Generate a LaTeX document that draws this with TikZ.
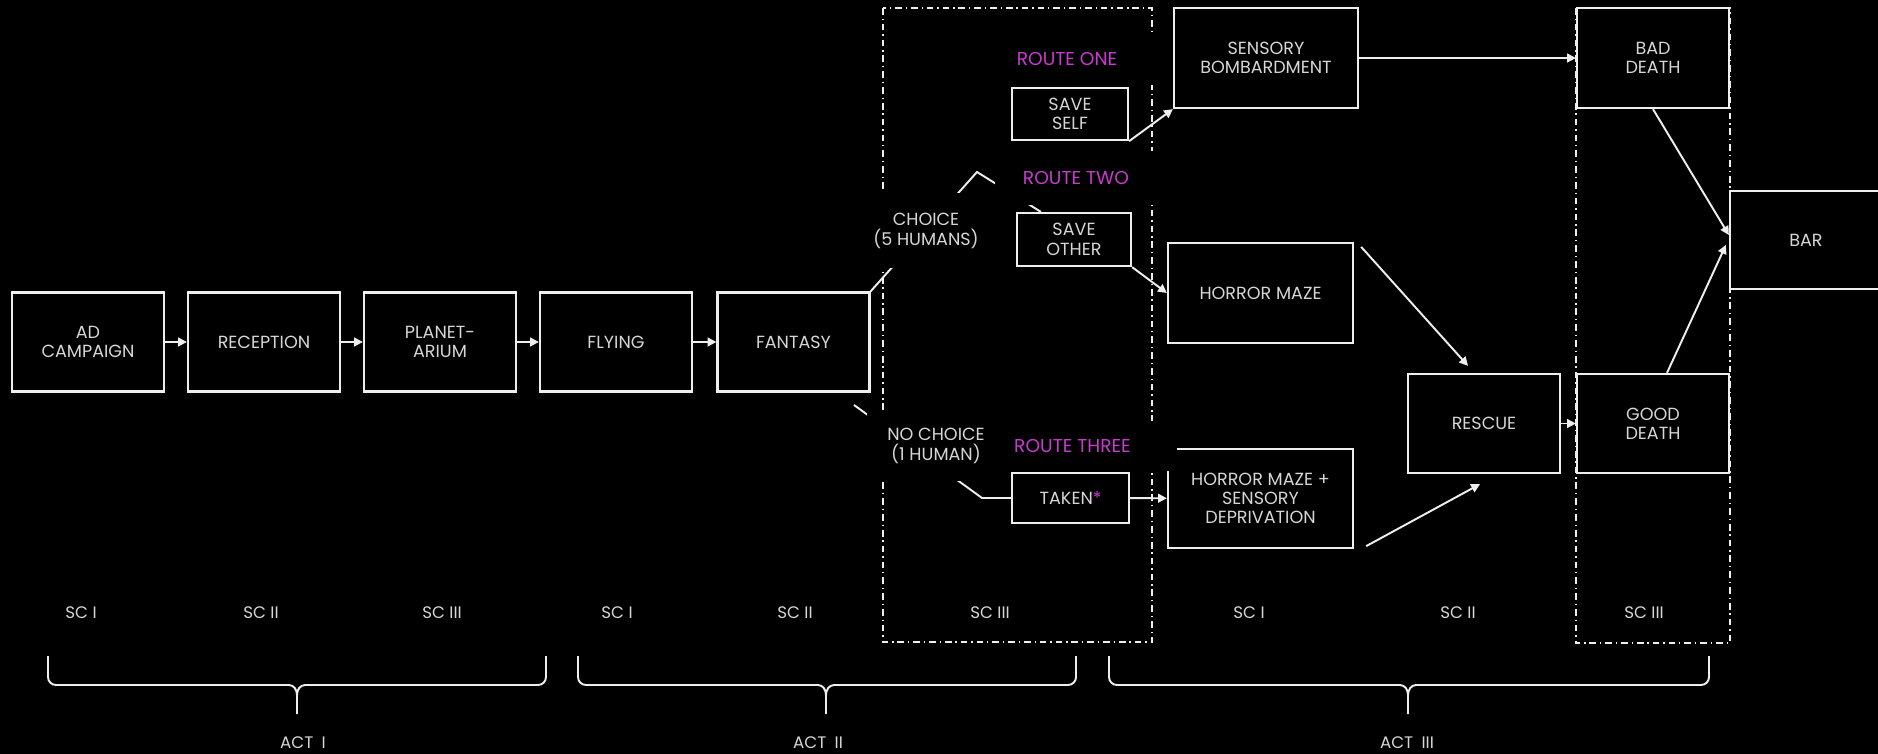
\documentclass[tikz,border=0pt]{standalone}
\usepackage{fontspec}
\setmainfont{Poppins}
\usepackage{tikz}
\usetikzlibrary{arrows.meta, calc}
\definecolor{StoryLine}{HTML}{EEEEEE}
\definecolor{StoryText}{HTML}{D6D6D6}
\definecolor{RouteMagenta}{HTML}{C93AD0}

\begin{document}
\begin{tikzpicture}[
  stage/.style={draw=StoryLine, line width=1.3pt, fill=black, text=StoryText, align=center, inner sep=2pt, font=\fontsize{10}{11}\selectfont, minimum width=3.04cm, minimum height=1.98cm},
  route/.style={fill=black, text=RouteMagenta, font=\fontsize{10.6}{11}\selectfont, inner sep=0pt},
  gapnote/.style={fill=black, text=StoryText, align=center, font=\fontsize{10}{11}\selectfont, inner sep=0pt},
  scene/.style={text=StoryText, font=\fontsize{9.5}{11}\selectfont},
  zone/.style={draw=StoryLine, line width=1.2pt, dash pattern=on 3.8pt off 2.2pt on 0.8pt off 2.2pt},
  arrow/.style={-{Triangle[length=5pt, width=5pt]}, line width=1.1pt, draw=StoryLine},
  link/.style={line width=1.1pt, draw=StoryLine},
  actbrace/.style={line width=1.1pt, draw=StoryLine}
]
  \path[use as bounding box, fill=black] (0,0) rectangle (37.56,-15.08);

  % scene boxes with a choice
  \draw[zone] (17.66,-0.16) rectangle (23.04,-12.84);
  \draw[zone] (31.52,-0.16) rectangle (34.60,-12.86);

  % act I and II
  \node[stage] (adcampaign) at (1.76, -6.84) {AD\\CAMPAIGN};
  \node[stage] (reception) at (5.28, -6.84) {RECEPTION};
  \node[stage] (planetarium) at (8.80, -6.84) {PLANET-\\ARIUM};
  \node[stage] (flying) at (12.32, -6.84) {FLYING};
  \node[stage] (fantasy) at (15.87, -6.84) {FANTASY};

  \node[stage, minimum width=2.32cm, minimum height=1.04cm] (saveself) at (21.40, -2.28) {SAVE\\SELF};
  \node[stage, minimum width=2.28cm, minimum height=1.06cm] (saveother) at (21.48, -4.79) {SAVE\\OTHER};
  \node[stage, minimum width=2.34cm, minimum height=1.00cm] (taken) at (21.41, -9.96) {TAKEN{\color{RouteMagenta}*}};

  % act III
  \node[stage, minimum width=3.68cm, minimum height=2.00cm] (bombard) at (25.32, -1.16) {SENSORY\\BOMBARDMENT};
  \node[stage, minimum width=3.70cm, minimum height=2.00cm] (horror) at (25.21, -5.86) {HORROR MAZE};
  \node[stage, minimum width=3.70cm] (deprive) at (25.21, -9.97) {HORROR MAZE +\\SENSORY\\DEPRIVATION};
  \node[stage] (rescue) at (29.68, -8.47) {RESCUE};
  \node[stage, minimum height=2.00cm] (baddeath) at (33.06, -1.16) {BAD\\DEATH};
  \node[stage] (gooddeath) at (33.06, -8.47) {GOOD\\DEATH};
  \node[stage, minimum height=1.96cm] (bar) at (36.12, -4.80) {BAR};

  \coordinate (fork) at (19.54, -3.44);
  \coordinate (drop) at (17.08, -8.10);
  \coordinate (bend) at (19.64, -9.96);

  \draw[arrow] (adcampaign) -- (reception);
  \draw[arrow] (reception) -- (planetarium);
  \draw[arrow] (planetarium) -- (flying);
  \draw[arrow] (flying) -- (fantasy);

  \draw[link] (fantasy.north east) -- (fork) -- ($(saveother.north west)+(0.5,0)$);
  \draw[link] (drop) -- (bend) -- (taken.west);

  \draw[arrow] (saveself.south east) -- (bombard.south west);
  \draw[arrow] (saveother.south east) -- (horror.west);
  \draw[arrow] (taken) -- (deprive);
  \draw[arrow] (bombard) -- (baddeath);
  \draw[arrow] ($(horror.north east)+(0.14,-0.10)$) -- ($(rescue.north)+(-0.32,0.14)$);
  \draw[arrow] ($(deprive.south east)+(0.24,0.06)$) -- ($(rescue.south)+(-0.08,-0.20)$);
  \draw[arrow] (rescue) -- (gooddeath);
  \draw[arrow] (baddeath.south) -- ($(bar.west)+(0,0.10)$);
  \draw[arrow] ($(gooddeath.north)+(0.28,0)$) -- ($(bar.west)+(-0.06,-0.10)$);

  % labels over the lines
  \node[route, minimum width=3.8cm, minimum height=1.04cm] (routeone) at (21.34, -1.18) {ROUTE ONE};
  \node[route, minimum width=3.24cm, minimum height=1.08cm] (routetwo) at (21.52, -3.56) {ROUTE TWO};
  \node[route, minimum width=4.18cm, minimum height=1.00cm] (routethree) at (21.45, -8.92) {ROUTE THREE};
  \node[gapnote, minimum width=2.34cm, minimum height=1.50cm] (choice) at (18.52, -4.62) {CHOICE\\(5 HUMANS)};
  \node[gapnote, minimum width=2.76cm, minimum height=1.40cm] (nochoice) at (18.72, -8.92) {NO CHOICE\\(1 HUMAN)};

  % scenes and acts
  \node[scene] (sc1a) at (1.62, -12.26) {SC I};
  \node[scene] (sc2a) at (5.22, -12.26) {SC II};
  \node[scene] (sc3a) at (8.84, -12.26) {SC III};
  \node[scene] (sc1b) at (12.34, -12.26) {SC I};
  \node[scene] (sc2b) at (15.90, -12.26) {SC II};
  \node[scene] (sc3b) at (19.80, -12.26) {SC III};
  \node[scene] (sc1c) at (24.98, -12.26) {SC I};
  \node[scene] (sc2c) at (29.16, -12.26) {SC II};
  \node[scene] (sc3c) at (32.88, -12.26) {SC III};

  \foreach \l/\m/\r in {0.96/5.94/10.92, 11.56/16.52/21.52, 22.18/28.16/34.18}
    \draw[actbrace] (\l,-13.12) -- (\l,-13.54) to[out=-90, in=180] (\l+0.16,-13.70) -- (\m-0.16,-13.70) to[out=0, in=90] (\m,-13.90) -- (\m,-14.28)
      (\m,-13.90) to[out=90, in=180] (\m+0.16,-13.70) -- (\r-0.16,-13.70) to[out=0, in=-90] (\r,-13.54) -- (\r,-13.12);

  \node[scene] (act1) at (6.06, -14.86) {ACT\enspace I};
  \node[scene] (act2) at (16.36, -14.86) {ACT\enspace II};
  \node[scene] (act3) at (28.14, -14.86) {ACT\enspace III};
\end{tikzpicture}
\end{document}
